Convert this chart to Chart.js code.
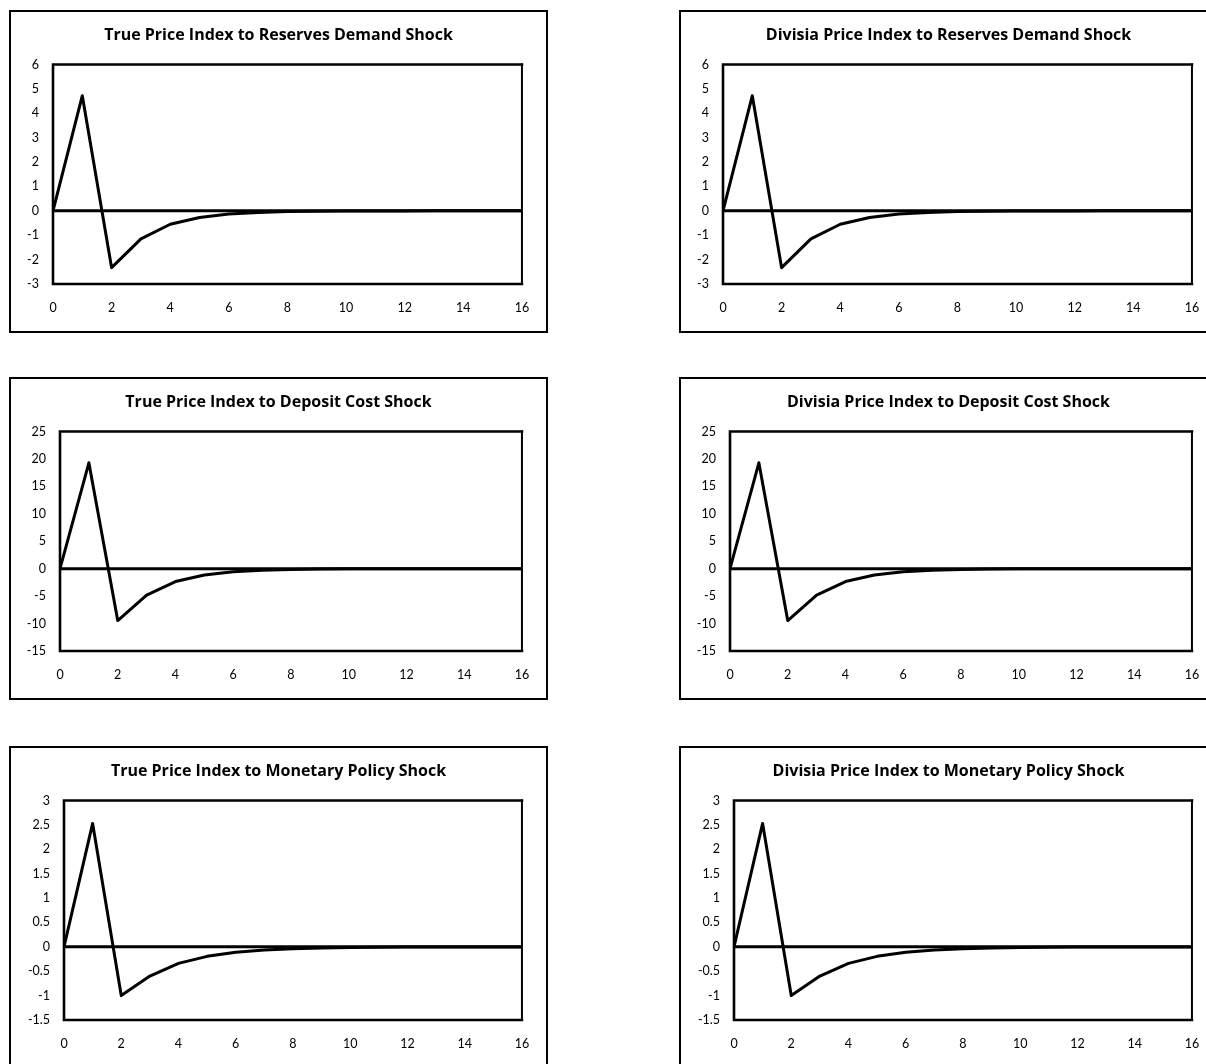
<!DOCTYPE html>
<html>
<head>
<meta charset="utf-8">
<title>Impulse responses of price indices</title>
<script src="https://cdn.jsdelivr.net/npm/chart.js@4.4.1/dist/chart.umd.min.js"></script>
<style>
  html, body { margin: 0; padding: 0; background: #fff; width: 1206px; height: 1064px; overflow: hidden; }
  .panel { position: absolute; width: 539px; height: 323px; border: 2px solid #000; box-sizing: border-box; background: #fff; }
  .panel canvas { position: absolute; left: 0; top: 0; }
</style>
</head>
<body>
<script>
// Horizon (periods after the shock)
const periods = [0, 1, 2, 3, 4, 5, 6, 7, 8, 9, 10, 11, 12, 13, 14, 15, 16];

// Responses to a reserves demand shock
const reservesTrue    = [0, 4.72, -2.33, -1.15, -0.55, -0.27, -0.13, -0.065, -0.032, -0.016, -0.008, -0.004, -0.002, -0.001, 0, 0, 0];
const reservesDivisia = [0, 4.72, -2.33, -1.15, -0.55, -0.27, -0.13, -0.065, -0.032, -0.016, -0.008, -0.004, -0.002, -0.001, 0, 0, 0];

// Responses to a deposit cost shock
const depositTrue    = [0, 19.3, -9.45, -4.8, -2.35, -1.16, -0.57, -0.28, -0.14, -0.07, -0.034, -0.017, -0.008, -0.004, -0.002, -0.001, 0];
const depositDivisia = [0, 19.3, -9.45, -4.8, -2.35, -1.16, -0.57, -0.28, -0.14, -0.07, -0.034, -0.017, -0.008, -0.004, -0.002, -0.001, 0];

// Responses to a monetary policy shock
const monetaryTrue    = [0, 2.53, -1.0, -0.6, -0.34, -0.195, -0.11, -0.065, -0.038, -0.022, -0.013, -0.008, -0.005, -0.003, -0.002, -0.001, -0.001];
const monetaryDivisia = [0, 2.53, -1.0, -0.6, -0.34, -0.195, -0.11, -0.065, -0.038, -0.022, -0.013, -0.008, -0.005, -0.003, -0.002, -0.001, -0.001];

// Axis tick labels
const xTicks = [0, 2, 4, 6, 8, 10, 12, 14, 16];
const reservesTicks = [-3, -2, -1, 0, 1, 2, 3, 4, 5, 6];
const depositTicks  = [-15, -10, -5, 0, 5, 10, 15, 20, 25];
const monetaryTicks = [-1.5, -1, -0.5, 0, 0.5, 1, 1.5, 2, 2.5, 3];

const titles = [
  ['True Price Index to Reserves Demand Shock', 'Divisia Price Index to Reserves Demand Shock'],
  ['True Price Index to Deposit Cost Shock', 'Divisia Price Index to Deposit Cost Shock'],
  ['True Price Index to Monetary Policy Shock', 'Divisia Price Index to Monetary Policy Shock']
];
const seriesGrid = [
  [reservesTrue, reservesDivisia],
  [depositTrue, depositDivisia],
  [monetaryTrue, monetaryDivisia]
];
const tickGrid = [reservesTicks, depositTicks, monetaryTicks];

// Page layout of the six framed panels
const colLeft = [9, 679];
const rowTop = [10, 377, 746];
const PANEL_W = 539, PANEL_H = 323, BORDER = 2;
const CANVAS_W = PANEL_W - 2 * BORDER, CANVAS_H = PANEL_H - 2 * BORDER;
const RIGHT_GAP = 23;                // empty strip right of the plot frame
const plotLeft = [42, 49, 53];       // distance from canvas edge to the plot frame, per row

const TITLE_FONT = "'Open Sans', Lato, 'DejaVu Sans', sans-serif";
const TICK_FONT = "Lato, 'Open Sans', 'DejaVu Sans', sans-serif";

// Plot-area frame: heavier on left/top/bottom, lighter on the right
const framePlugin = {
  id: 'plotFrame',
  beforeDatasetsDraw(chart) {
    const { ctx, chartArea: a } = chart;
    ctx.save();
    ctx.strokeStyle = '#000';
    ctx.lineCap = 'square';
    ctx.lineWidth = 2.6;
    ctx.beginPath();
    ctx.moveTo(a.right, a.top); ctx.lineTo(a.left, a.top);
    ctx.lineTo(a.left, a.bottom); ctx.lineTo(a.right, a.bottom);
    ctx.stroke();
    ctx.lineWidth = 2;
    ctx.beginPath();
    ctx.moveTo(a.right, a.top); ctx.lineTo(a.right, a.bottom);
    ctx.stroke();
    ctx.restore();
  }
};

function makePanel(row, col) {
  const div = document.createElement('div');
  div.className = 'panel';
  div.style.left = colLeft[col] + 'px';
  div.style.top = rowTop[row] + 'px';
  const canvas = document.createElement('canvas');
  canvas.width = CANVAS_W;
  canvas.height = CANVAS_H;
  canvas.style.width = CANVAS_W + 'px';
  canvas.style.height = CANVAS_H + 'px';
  div.appendChild(canvas);
  document.body.appendChild(div);

  const values = seriesGrid[row][col];
  const yTicks = tickGrid[row];
  const yw = plotLeft[row];

  new Chart(canvas, {
    type: 'line',
    data: {
      datasets: [
        {
          data: periods.map((p) => ({ x: p, y: 0 })),
          borderColor: '#000',
          borderWidth: 3,
          pointRadius: 0,
          tension: 0
        },
        {
          data: periods.map((p, i) => ({ x: p, y: values[i] })),
          borderColor: '#000',
          borderWidth: 3,
          borderJoinStyle: 'round',
          borderCapStyle: 'round',
          pointRadius: 0,
          tension: 0
        }
      ]
    },
    options: {
      responsive: false,
      animation: false,
      events: [],
      layout: { padding: { left: 0, right: 0, top: 0, bottom: 16 } },
      plugins: {
        legend: { display: false },
        tooltip: { enabled: false },
        title: {
          display: true,
          text: titles[row][col],
          color: '#000',
          font: { family: TITLE_FONT, size: 16, weight: 'bold', lineHeight: 1.2 },
          padding: { top: 13.8, bottom: 19.5 }
        }
      },
      scales: {
        x: {
          type: 'linear',
          min: xTicks[0],
          max: xTicks[xTicks.length - 1],
          afterBuildTicks(scale) { scale.ticks = xTicks.map((v) => ({ value: v })); },
          afterFit(scale) { scale.height = 31; },
          grid: { display: false, drawTicks: false },
          border: { display: false },
          ticks: { color: '#000', padding: 16.8, maxRotation: 0, autoSkip: false, font: { family: TICK_FONT, size: 12.5 } }
        },
        y: {
          type: 'linear',
          min: yTicks[0],
          max: yTicks[yTicks.length - 1],
          afterBuildTicks(scale) { scale.ticks = yTicks.map((v) => ({ value: v })); },
          afterFit(scale) { scale.width = yw; },
          grid: { display: false, drawTicks: false },
          border: { display: false },
          ticks: { color: '#000', padding: 14, autoSkip: false, font: { family: TICK_FONT, size: 12.5 },
                   callback: (v) => String(v) }
        },
        // blank right-hand strip so the title stays centred on the whole panel
        gap: {
          type: 'linear',
          position: 'right',
          afterFit(scale) { scale.width = RIGHT_GAP; },
          grid: { display: false, drawTicks: false },
          border: { display: false },
          ticks: { display: false }
        }
      }
    },
    plugins: [framePlugin]
  });
}

for (let r = 0; r < 3; r++) {
  for (let c = 0; c < 2; c++) makePanel(r, c);
}
</script>
</body>
</html>
